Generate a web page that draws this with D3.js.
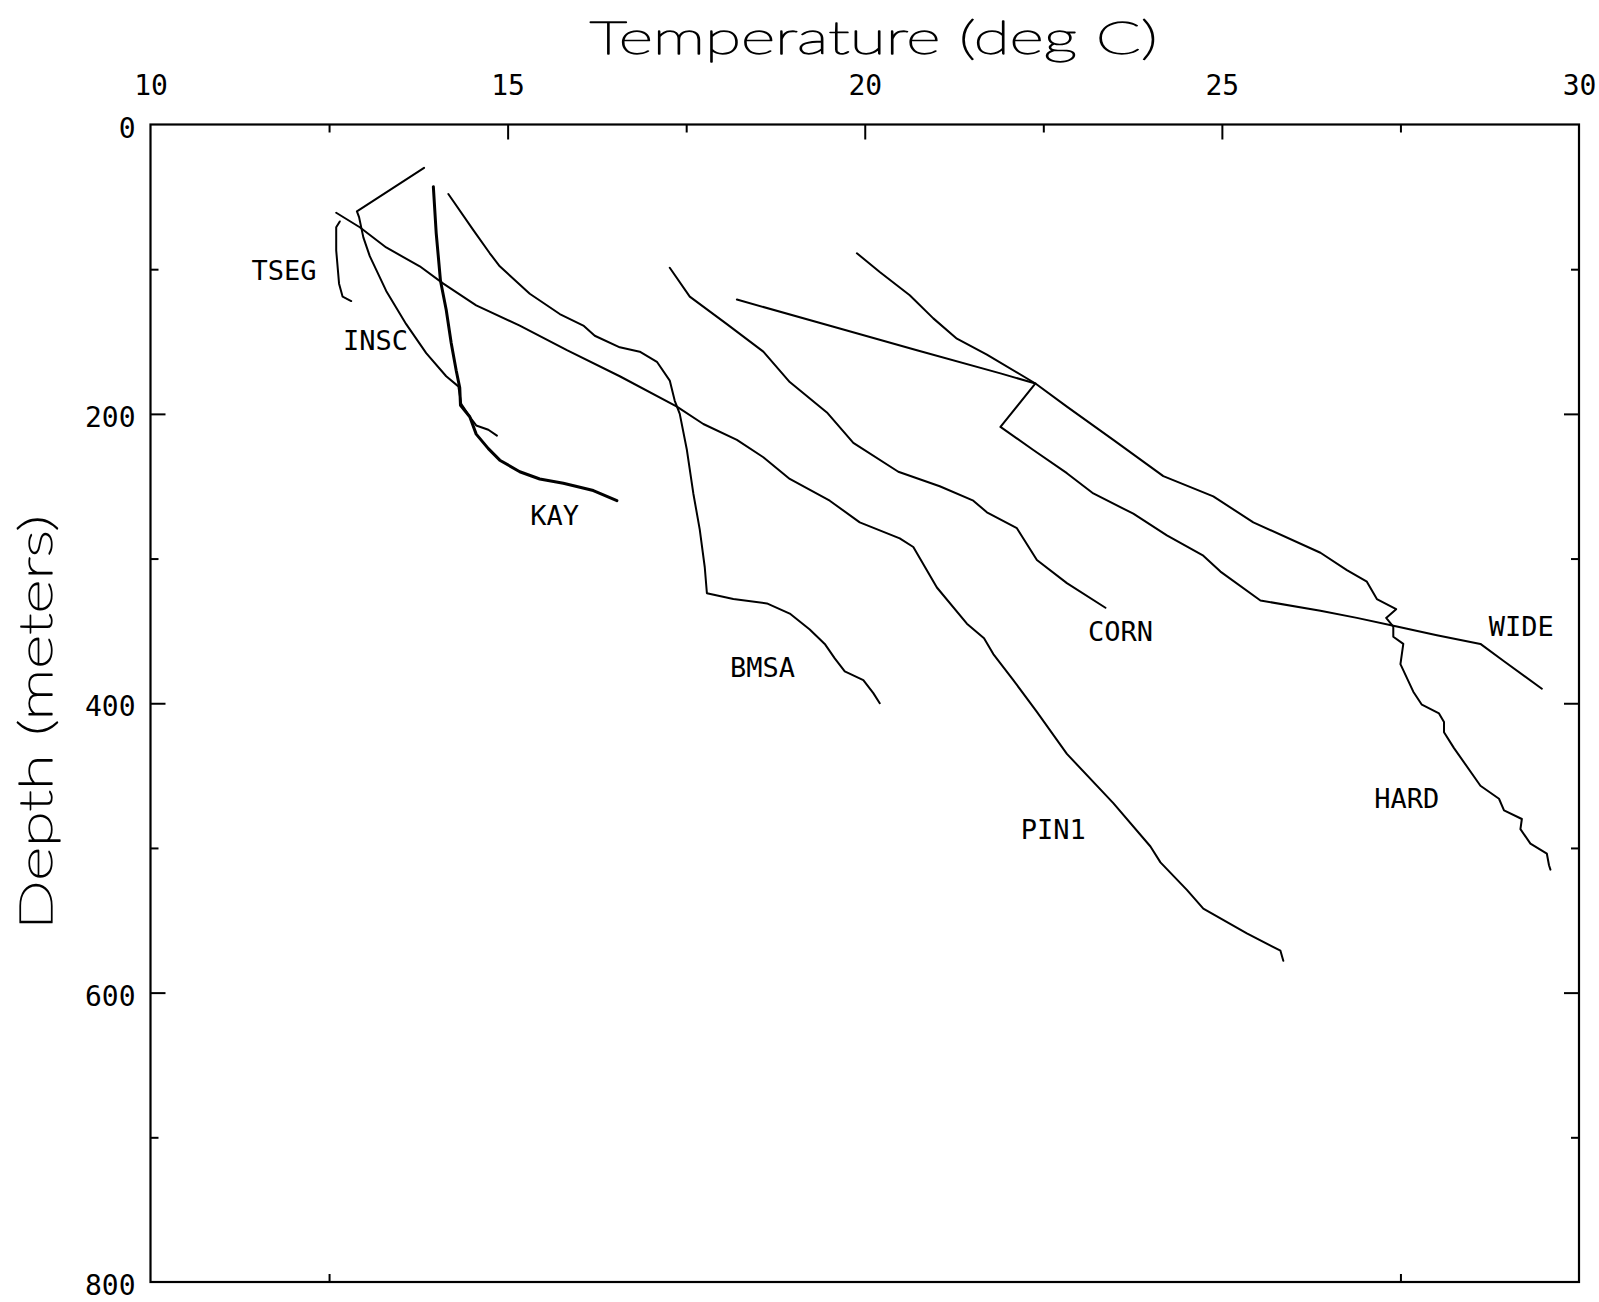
<!DOCTYPE html>
<html><head><meta charset="utf-8">
<script src="https://cdn.jsdelivr.net/npm/d3@7"></script>
<style>html,body{margin:0;padding:0;background:#fff;} svg{display:block;}</style>
</head><body>
<script>
// ---- axis definitions ----
const tempDomain = [10, 30];
const depthDomain = [0, 800];
const xTickLabels = [10, 15, 20, 25, 30];
const yTickLabels = [0, 200, 400, 600, 800];
const xTopMajor = [15, 20, 25];
const xTopMinor = [12.5, 17.5, 22.5, 27.5];
const xBottomMinor = [12.5, 27.5];
const yMajor = [200, 400, 600];
const yMinor = [100, 300, 500, 700];
const xTitle = "Temperature (deg C)";
const yTitle = "Depth (meters)";

// ---- profiles: [temperature degC, depth m] ----
const TSEG = [[12.65,67],[12.60,71],[12.60,87],[12.64,110],[12.69,119],[12.81,122]];
const INSC = [[13.83,30],[12.89,60],[12.92,64],[12.98,78],[13.07,91],[13.30,115],[13.58,138],[13.86,158],[14.14,174],[14.31,181],[14.35,193],[14.47,202],[14.56,208],[14.73,211],[14.85,215]];
const KAY = [[13.96,43],[14.00,75],[14.06,108],[14.14,128],[14.21,151],[14.28,170],[14.33,182],[14.34,194],[14.47,202],[14.56,214],[14.73,224],[14.89,232],[15.17,240],[15.45,245],[15.78,248],[16.20,253],[16.53,260]];
const BMSA = [[14.17,48],[14.52,73],[14.75,89],[14.89,98],[15.31,117],[15.73,131],[16.06,139],[16.22,146],[16.57,154],[16.85,157],[17.09,164],[17.27,177],[17.34,191],[17.41,200],[17.51,225],[17.60,255],[17.69,280],[17.76,306],[17.79,324],[18.16,328],[18.63,331],[18.95,338],[19.23,349],[19.44,359],[19.58,369],[19.72,378],[19.98,384],[20.12,393],[20.21,400]];
const PIN1 = [[12.60,61],[12.93,71],[13.30,85],[13.77,98],[14.10,110],[14.56,125],[15.17,139],[15.83,156],[16.57,174],[17.37,195],[17.74,207],[18.21,218],[18.58,230],[18.95,245],[19.51,260],[19.93,275],[20.49,286],[20.68,292],[21.01,320],[21.43,345],[21.67,355],[21.80,366],[22.08,384],[22.41,406],[22.83,435],[23.48,469],[24.00,499],[24.14,510],[24.51,529],[24.74,542],[25.35,559],[25.82,571],[25.86,578]];
const CORN = [[17.27,99],[17.55,119],[18.07,138],[18.58,157],[18.95,178],[19.47,199],[19.84,220],[20.47,240],[21.05,250],[21.52,260],[21.71,268],[22.13,279],[22.41,301],[22.83,317],[23.37,334]];
const WIDE = [[18.21,121],[19.65,141],[20.73,156],[21.90,172],[22.39,179],[21.90,209],[22.36,225],[22.83,241],[23.20,255],[23.76,269],[24.23,284],[24.74,298],[24.98,309],[25.54,329],[26.38,336],[26.89,341],[27.45,347],[28.01,353],[28.62,359],[28.95,371],[29.48,390]];
const HARD = [[19.89,89],[20.21,102],[20.63,118],[20.96,134],[21.29,148],[21.71,159],[22.39,179],[22.83,195],[23.48,218],[24.18,243],[24.88,257],[25.44,275],[26.38,296],[26.75,308],[27.03,316],[27.17,328],[27.44,335],[27.30,341],[27.40,347],[27.40,354],[27.54,359],[27.50,373],[27.68,392],[27.80,401],[28.04,407],[28.11,413],[28.11,420],[28.25,431],[28.62,457],[28.88,466],[28.95,474],[29.20,480],[29.18,487],[29.32,497],[29.55,504],[29.58,512],[29.60,515]];

const seriesNames = ["TSEG","INSC","KAY","BMSA","PIN1","CORN","WIDE","HARD"];
const seriesData = [TSEG, INSC, KAY, BMSA, PIN1, CORN, WIDE, HARD];
// label anchor positions (temperature, depth)
const labelTemp  = [11.87, 13.15, 15.66, 18.57, 22.64, 23.58, 29.19, 27.59];
const labelDepth = [101,   149,   270,   375,   487,   350,   347,   466];

// ---- drawing ----
const W = 1599, H = 1302;
const svg = d3.select("body").append("svg").attr("width", W).attr("height", H)
  .style("background", "#fff");

const x = d3.scaleLinear().domain(tempDomain).range([150.5, 1579]);
const y = d3.scaleLinear().domain(depthDomain).range([124.5, 1282]);

const monoFont = "'DejaVu Sans Mono', 'Liberation Mono', monospace";

// frame
svg.append("rect")
  .attr("x", x(tempDomain[0])).attr("y", y(depthDomain[0]))
  .attr("width", x(tempDomain[1]) - x(tempDomain[0]))
  .attr("height", y(depthDomain[1]) - y(depthDomain[0]))
  .attr("fill", "none").attr("stroke", "#000").attr("stroke-width", 2.2);

function tickAxis(axis, values, len, transform) {
  const g = svg.append("g").attr("transform", transform)
    .call(axis.tickValues(values).tickSizeInner(-len).tickSizeOuter(0).tickFormat(""));
  g.select(".domain").remove();
  g.selectAll(".tick line").attr("stroke", "#000").attr("stroke-width", 2);
}
const MAJ = 15, MIN = 8;
tickAxis(d3.axisTop(x), xTopMajor, MAJ, `translate(0,${y(0)})`);
tickAxis(d3.axisTop(x), xTopMinor, MIN, `translate(0,${y(0)})`);
tickAxis(d3.axisBottom(x), xBottomMinor, MIN, `translate(0,${y(800)})`);
tickAxis(d3.axisLeft(y), yMajor, MAJ, `translate(${x(10)},0)`);
tickAxis(d3.axisLeft(y), yMinor, MIN, `translate(${x(10)},0)`);
tickAxis(d3.axisRight(y), yMajor, MAJ, `translate(${x(30)},0)`);
tickAxis(d3.axisRight(y), yMinor, MIN, `translate(${x(30)},0)`);

// tick labels
const gTop = svg.append("g").attr("transform", `translate(0,${y(0)})`)
  .call(d3.axisTop(x).tickValues(xTickLabels).tickSize(0).tickPadding(30).tickFormat(d3.format("d")));
gTop.select(".domain").remove();
gTop.selectAll("text").attr("font-family", monoFont).attr("font-size", 28).attr("fill", "#000");

const gLeft = svg.append("g").attr("transform", `translate(${x(10)},0)`)
  .call(d3.axisLeft(y).tickValues(yTickLabels).tickSize(0).tickPadding(15).tickFormat(d3.format("d")));
gLeft.select(".domain").remove();
gLeft.selectAll("text").attr("font-family", monoFont).attr("font-size", 28).attr("fill", "#000")
  .attr("dy", "0.45em");

// axis titles (thin plotter-like strokes)
function titleStyle(sel) {
  sel.attr("lengthAdjust", "spacingAndGlyphs")
    .attr("font-family", "Lato, 'DejaVu Sans', sans-serif").attr("font-weight", 100)
    .attr("font-size", 46).attr("fill", "#000")
    .attr("stroke", "#000").attr("stroke-width", 1.3).attr("stroke-linejoin", "round");
}
svg.append("text").text(xTitle)
  .attr("x", 589.5).attr("y", 54).attr("textLength", 568).call(titleStyle);
svg.append("text").text(yTitle)
  .attr("transform", "translate(52,930) rotate(-90)").attr("textLength", 415).call(titleStyle);

// profiles
const line = d3.line().x(d => x(d[0])).y(d => y(d[1]));
svg.append("g").selectAll("path").data(seriesData).join("path")
  .attr("d", line)
  .attr("fill", "none").attr("stroke", "#000")
  .attr("stroke-width", (d, i) => seriesNames[i] === "KAY" ? 3 : 2)
  .attr("stroke-linejoin", "round").attr("stroke-linecap", "round");

// profile labels
svg.append("g").selectAll("text").data(seriesNames).join("text")
  .text(d => d)
  .attr("x", (d, i) => x(labelTemp[i]))
  .attr("y", (d, i) => y(labelDepth[i]))
  .attr("dy", "0.36em")
  .attr("text-anchor", "middle")
  .attr("font-family", monoFont).attr("font-size", 27).attr("fill", "#000");
</script>
</body></html>
